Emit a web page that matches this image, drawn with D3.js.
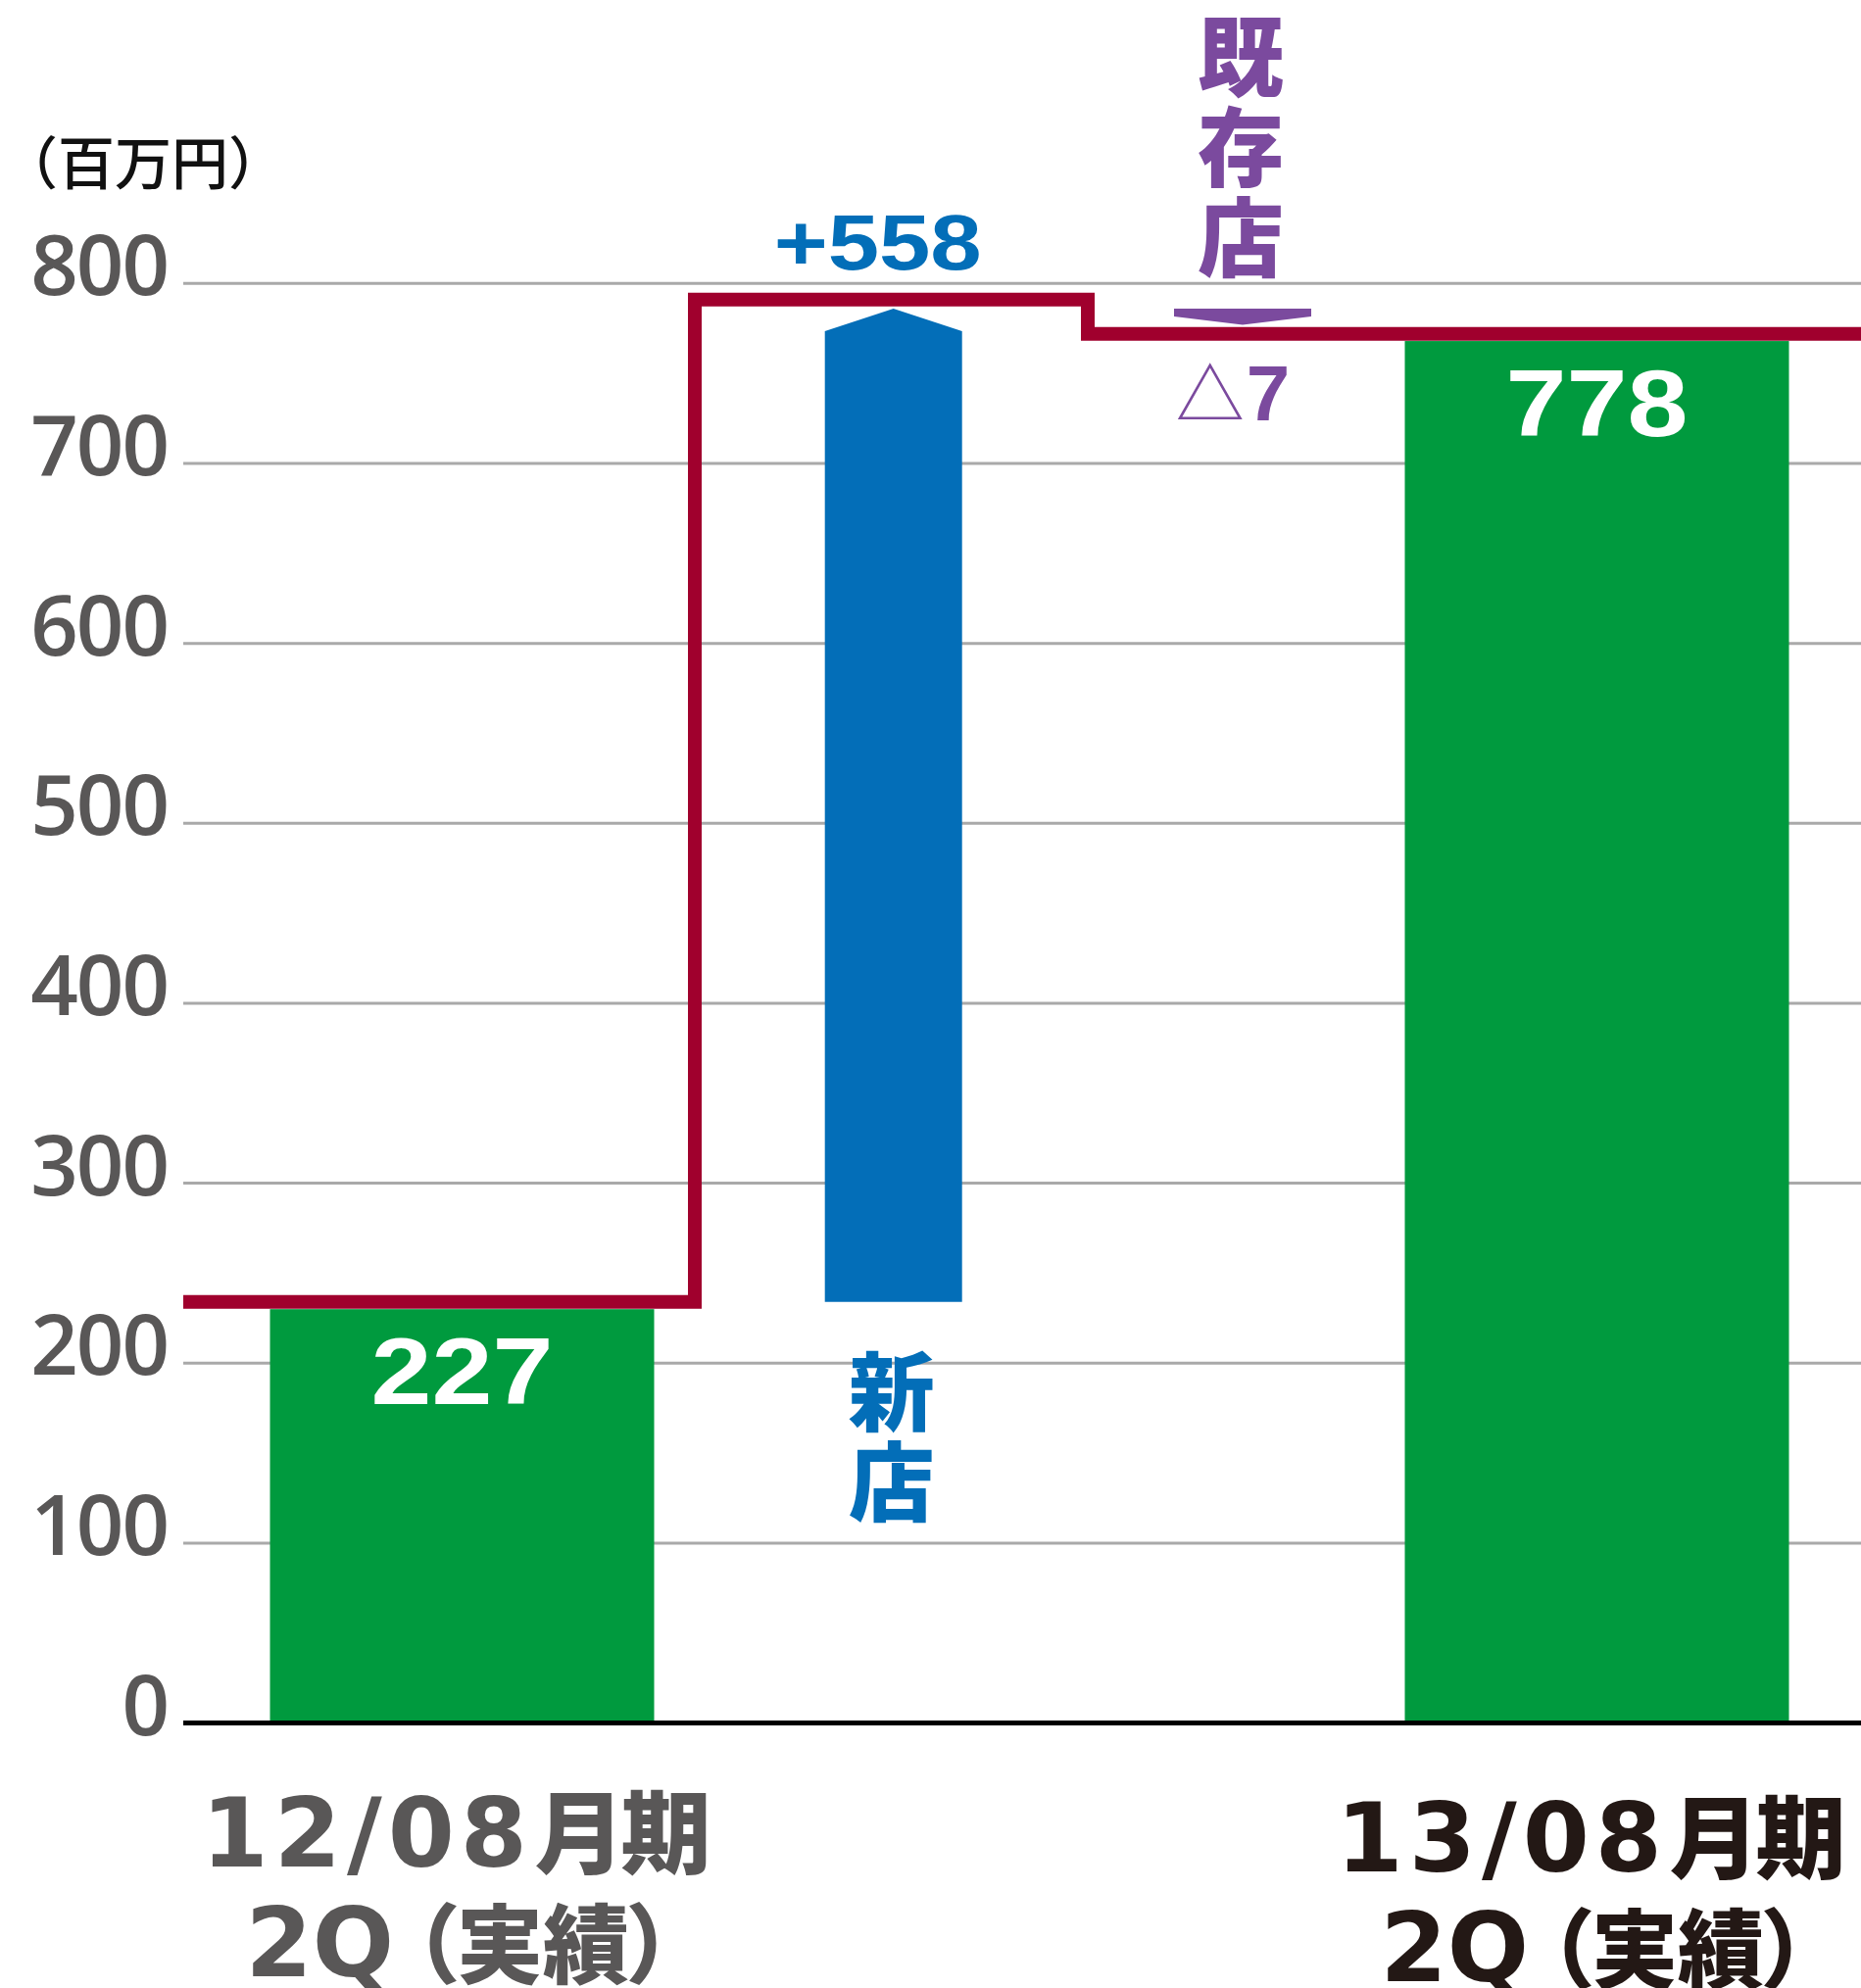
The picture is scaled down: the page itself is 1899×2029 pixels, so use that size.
<!DOCTYPE html>
<html>
<head>
<meta charset="utf-8">
<script src="https://cdn.jsdelivr.net/npm/d3@7"></script>
<style>
  html, body { margin: 0; padding: 0; background: #fff; }
  svg { display: block; }
</style>
</head>
<body>
<script>
// ---------- data ----------
const categories = ["12/08月期", "新店", "既存店", "13/08月期"];
const periods = ["12/08月期", "13/08月期"];
const periodYear = ["12/08", "13/08"];
const periodSuffix = ["月期", "月期"];
const periodQuarter = ["2Q", "2Q"];
const periodKind = ["（実績）", "（実績）"];
const periodValues = [227, 778];          // printed values
const periodBarTops = [230, 768];         // bar heights as drawn
const changeNames = ["新店", "既存店"];
const changeLabels = ["+558", "△7"];
const changeStart = [234, 786];           // arrow start (axis units)
const changeEnd = [786, 777];             // arrow end (axis units)
const stepLevels = [234, 791, 772];       // red step line levels (axis units)
const yTicks = [0, 100, 200, 300, 400, 500, 600, 700, 800];
const unitLabel = "（百万円）";

// ---------- layout ----------
const W = 1899, H = 2029;
const C = {
  green: "#009A3E", blue: "#036EB8", purple: "#7B4A9E", red: "#A0002D",
  grid: "#A9A9A9", tick: "#595757", dark: "#231815"
};
const LATIN = "'Liberation Sans', Arial, Helvetica, sans-serif";
const WIDE = "'DejaVu Sans', sans-serif";
const CJK = "'Noto Sans CJK JP', 'Noto Sans CJK SC', sans-serif";

const svg = d3.select("body").append("svg").attr("width", W).attr("height", H);
svg.append("rect").attr("width", W).attr("height", H).attr("fill", "#fff");

const y = d3.scaleLinear().domain([0, 800]).range([1758.6, 289.3]);
const x = d3.scaleOrdinal().domain(categories).range([471.5, 911.7, 1268, 1629.5]);
const xStep = d3.scaleOrdinal().domain(["start", "up", "down", "end"]).range([187, 709, 1110, W]);
const barW = 392, arrowW = 140;

// gridlines
svg.append("g").selectAll("line").data(yTicks.filter(d => d > 0)).join("line")
  .attr("x1", xStep("start")).attr("x2", xStep("end"))
  .attr("y1", d => y(d)).attr("y2", d => y(d))
  .attr("stroke", C.grid).attr("stroke-width", 3);

// tick labels
svg.append("g").selectAll("text").data(yTicks).join("text")
  .attr("x", 171).attr("y", d => y(d) + 12)
  .attr("text-anchor", "end")
  .attr("font-family", "'Open Sans', sans-serif").attr("font-weight", 600)
  .attr("font-size", 85).attr("letter-spacing", -2)
  .attr("fill", C.tick)
  .text(d => d);

// unit label
svg.append("text")
  .attr("x", 1).attr("y", 188)
  .attr("font-family", CJK).attr("font-weight", 500).attr("font-size", 58)
  .attr("fill", "#111")
  .text(unitLabel);

// bars
svg.append("g").selectAll("rect").data(periods).join("rect")
  .attr("x", d => x(d) - barW / 2)
  .attr("width", barW)
  .attr("y", (d, i) => y(periodBarTops[i]))
  .attr("height", (d, i) => y(0) - y(periodBarTops[i]))
  .attr("fill", C.green);

// arrows
function arrowPath(cx, v0, v1) {
  const y0 = y(v0), y1 = y(v1);
  const len = Math.abs(y1 - y0);
  const dir = y1 < y0 ? -1 : 1;       // -1 = up
  const head = Math.min(23, len * 0.52);
  const yh = y1 - dir * head;
  const l = cx - arrowW / 2, r = cx + arrowW / 2;
  return `M${l},${y0}L${r},${y0}L${r},${yh}L${cx},${y1}L${l},${yh}Z`;
}
const arrowColors = [C.blue, C.purple];
svg.append("g").selectAll("path").data(changeNames).join("path")
  .attr("d", (d, i) => arrowPath(x(d), changeStart[i], changeEnd[i]))
  .attr("fill", (d, i) => arrowColors[i]);

// step line
const stepPath = `M${xStep("start")},${y(stepLevels[0])}H${xStep("up")}V${y(stepLevels[1])}H${xStep("down")}V${y(stepLevels[2])}H${xStep("end")}`;
svg.append("path").attr("d", stepPath)
  .attr("fill", "none").attr("stroke", C.red).attr("stroke-width", 14)
  .attr("stroke-linejoin", "miter");

// baseline
svg.append("line")
  .attr("x1", xStep("start")).attr("x2", xStep("end"))
  .attr("y1", y(0)).attr("y2", y(0))
  .attr("stroke", "#000").attr("stroke-width", 5);

// value labels inside bars
svg.append("g").selectAll("text").data(periods).join("text")
  .attr("x", d => x(d)).attr("y", (d, i) => y(periodBarTops[i]) + 97)
  .attr("text-anchor", "middle")
  .attr("font-family", LATIN).attr("font-weight", "bold").attr("font-size", 96)
  .attr("textLength", 186).attr("lengthAdjust", "spacingAndGlyphs")
  .attr("fill", "#fff")
  .text((d, i) => periodValues[i]);

// change labels
svg.append("text")
  .attr("x", x(changeNames[0]) - 16).attr("y", y(changeEnd[0]) - 40)
  .attr("text-anchor", "middle")
  .attr("font-family", LATIN).attr("font-weight", "bold").attr("font-size", 80)
  .attr("textLength", 212).attr("lengthAdjust", "spacingAndGlyphs")
  .attr("fill", C.blue)
  .text(changeLabels[0]);

const t7 = svg.append("text")
  .attr("x", x(changeNames[1]) - 10).attr("y", y(changeEnd[1]) + 97)
  .attr("text-anchor", "middle")
  .attr("fill", C.purple);
t7.append("tspan").attr("font-family", CJK).attr("font-size", 70)
  .text(changeLabels[1].slice(0, 1));
t7.append("tspan").attr("font-family", LATIN).attr("font-weight", "bold").attr("font-size", 80)
  .attr("dx", 2)
  .text(changeLabels[1].slice(1));

// vertical category names for the changes
const vTop = [y(changeStart[0]) + 47, 14];
const vColors = [C.blue, C.purple];
svg.append("g").selectAll("text").data(changeNames).join("text")
  .attr("x", d => x(d) - 2).attr("y", (d, i) => vTop[i])
  .style("writing-mode", "vertical-rl")
  .attr("font-family", CJK).attr("font-weight", 900).attr("font-size", 88)
  .attr("letter-spacing", 4)
  .attr("fill", (d, i) => vColors[i])
  .text(d => d);

// period labels under the axis (one text element per period, two lines)
const periodColors = [C.tick, C.dark];
const labelShift = [0, 5];
periods.forEach((p, i) => {
  const cx = x(p), b1 = 1905 + labelShift[i];
  const t = svg.append("text")
    .attr("x", cx - 266).attr("y", b1)
    .attr("fill", periodColors[i]);
  t.append("tspan")
    .attr("font-family", WIDE).attr("font-weight", "bold").attr("font-size", 98)
    .attr("letter-spacing", 6)
    .text(periodYear[i]);
  t.append("tspan")
    .attr("x", cx + 74)
    .attr("font-family", CJK).attr("font-weight", 900).attr("font-size", 92)
    .attr("letter-spacing", -4)
    .text(periodSuffix[i]);
  t.append("tspan")
    .attr("x", cx - 221).attr("dy", 112)
    .attr("font-family", WIDE).attr("font-weight", "bold").attr("font-size", 98)
    .text(periodQuarter[i]);
  t.append("tspan")
    .attr("dx", 20)
    .attr("font-family", CJK).attr("font-weight", 900).attr("font-size", 88)
    .style("font-feature-settings", "'palt' 1")
    .text(periodKind[i]);
});
</script>
</body>
</html>
